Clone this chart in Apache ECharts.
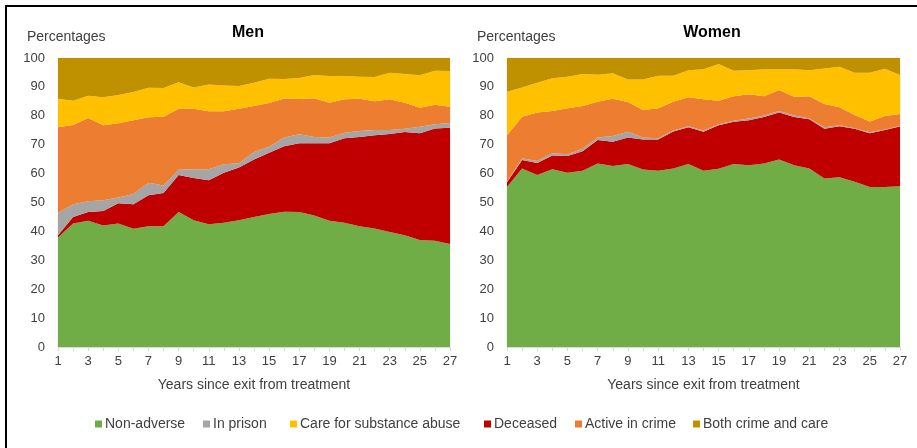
<!DOCTYPE html>
<html>
<head>
<meta charset="utf-8">
<script src="https://cdn.jsdelivr.net/npm/echarts@6/dist/echarts.min.js"></script>
<style>
  html,body{margin:0;padding:0;background:#fff;}
  #chart{width:917px;height:448px;}
</style>
</head>
<body>
<div id="chart"></div>
<script>
// years since exit from treatment
const years = [];
for (let i = 1; i <= 27; i++) years.push(String(i));

// Men - values (percent of each year, stacked to 100)
const menNonAdverse = [37.9,42.7,43.7,42.0,42.7,40.9,41.8,41.8,46.7,43.9,42.5,43.0,43.9,45.0,46.0,46.8,46.7,45.5,43.7,43.0,41.8,41.0,39.8,38.7,37.0,36.8,35.6];
const menDeceased   = [0.8,2.3,3.0,5.1,7.0,8.5,10.7,11.5,12.8,14.6,15.2,17.3,18.2,19.9,21.2,22.7,23.8,25.0,26.8,29.2,30.9,32.3,33.9,35.7,37.0,38.8,40.3];
const menPrison     = [7.7,4.4,3.7,3.7,2.0,3.5,4.3,2.6,1.8,3.0,3.8,2.9,1.5,2.6,2.1,3.0,3.1,2.2,2.0,1.9,2.0,1.8,1.4,1.1,2.2,1.5,1.6];
const menActive     = [29.6,27.4,28.8,25.9,25.7,25.6,22.7,23.8,21.1,20.9,20.1,18.4,18.8,15.9,15.1,13.5,12.2,13.4,12.0,11.6,11.2,9.9,10.6,9.0,6.6,6.7,5.6];
const menCare       = [9.9,8.4,7.7,9.7,9.8,9.7,10.2,9.9,9.2,7.4,9.2,8.9,7.9,8.0,8.4,6.7,7.3,8.0,9.3,8.1,7.6,8.4,9.2,10.0,11.2,11.8,12.4];
const menBoth       = [14.1,14.8,13.1,13.6,12.8,11.8,10.3,10.4,8.4,10.2,9.2,9.5,9.7,8.6,7.2,7.3,6.9,5.9,6.2,6.2,6.5,6.6,5.1,5.5,6.0,4.4,4.5];

// Women
const womenNonAdverse = [55.4,61.8,59.5,61.5,60.3,61.0,63.5,62.6,63.3,61.4,61.0,61.8,63.3,61.0,61.7,63.3,62.9,63.5,64.9,62.9,61.8,58.3,58.7,57.2,55.4,55.4,55.6];
const womenDeceased   = [1.6,2.9,4.2,4.8,5.8,6.7,8.1,8.4,9.2,10.4,10.8,12.8,12.7,13.5,15.0,14.6,15.6,16.1,16.2,16.7,17.0,17.2,17.7,18.3,18.6,19.7,20.7];
const womenPrison     = [0.2,0.6,0.7,0.7,0.6,0.9,0.9,2.0,2.0,0.7,0.4,0.3,0.4,0.4,0.4,0.4,0.6,0.5,0.6,0.5,0.3,0.5,0.3,0.2,0.3,0.2,0.2];
const womenActive     = [16.1,14.4,16.7,14.7,15.9,14.8,12.4,12.9,10.3,9.5,10.4,10.0,10.0,10.8,8.1,8.5,8.4,6.7,7.2,6.5,7.7,8.1,6.3,4.6,3.7,4.6,4.1];
const womenCare       = [15.0,10.1,10.3,11.3,10.9,11.1,9.3,8.8,7.8,10.6,11.3,9.0,9.4,10.4,12.7,8.8,8.3,9.3,7.2,9.5,9.0,12.3,14.0,14.6,16.9,16.4,13.5];
const womenBoth       = [11.7,10.2,8.6,7.0,6.5,5.5,5.8,5.3,7.4,7.4,6.1,6.1,4.2,3.9,2.1,4.4,4.2,3.9,3.9,3.9,4.2,3.6,3.0,5.1,5.1,3.7,5.9];

const seriesNames = ['Non-adverse','Deceased','In prison','Active in crime','Care for substance abuse','Both crime and care'];
const seriesColors = ['#70ad47','#c00000','#a5a5a5','#ed7d31','#ffc000','#bf9000'];
const menData = [menNonAdverse, menDeceased, menPrison, menActive, menCare, menBoth];
const womenData = [womenNonAdverse, womenDeceased, womenPrison, womenActive, womenCare, womenBoth];

// legend order as shown under the charts
const legendOrder = ['Non-adverse','In prison','Care for substance abuse','Deceased','Active in crime','Both crime and care'];
const legendLefts = [95, 203, 290, 484, 575, 693];

const FONT = '"Liberation Sans", Arial, sans-serif';
const TXT = '#404040';

function makeSeries(dataSets, idx, stackName){
    return dataSets.map((d, i) => ({
        name: seriesNames[i],
        type: 'line',
        stack: stackName,
        xAxisIndex: idx,
        yAxisIndex: idx,
        data: d,
        symbol: 'none',
        lineStyle: {width: 0},
        areaStyle: {color: seriesColors[i], opacity: 1},
        itemStyle: {color: seriesColors[i]},
        emphasis: {disabled: true},
        animation: false
    }));
}

function xAxis(idx){
    return {
        type: 'category',
        gridIndex: idx,
        data: years,
        boundaryGap: false,
        name: 'Years since exit from treatment',
        nameLocation: 'middle',
        nameGap: 31,
        nameTextStyle: {fontFamily: FONT, fontSize: 14, color: TXT},
        axisLine: {lineStyle: {color: '#d9d9d9'}},
        axisTick: {show: true, interval: 0, length: 4, lineStyle: {color: '#d9d9d9'}},
        axisLabel: {interval: 1, fontFamily: FONT, fontSize: 13, color: TXT, margin: 8},
        splitLine: {show: false}
    };
}

function yAxis(idx){
    return {
        type: 'value',
        gridIndex: idx,
        min: 0,
        max: 100,
        interval: 10,
        axisLine: {show: false},
        axisTick: {show: false},
        axisLabel: {fontFamily: FONT, fontSize: 13, color: TXT, margin: 13},
        splitLine: {show: false}
    };
}

const chart = echarts.init(document.getElementById('chart'));
chart.setOption({
    backgroundColor: '#fff',
    animation: false,
    title: [
        {text: 'Men', left: 243, top: 20, textAlign: 'center',
         textStyle: {fontFamily: FONT, fontSize: 16, fontWeight: 'bold', color: '#000'}},
        {text: 'Women', left: 707, top: 20, textAlign: 'center',
         textStyle: {fontFamily: FONT, fontSize: 16, fontWeight: 'bold', color: '#000'}},
        {text: 'Percentages', left: 22, top: 25,
         textStyle: {fontFamily: FONT, fontSize: 14, fontWeight: 'normal', color: TXT}},
        {text: 'Percentages', left: 472, top: 25,
         textStyle: {fontFamily: FONT, fontSize: 14, fontWeight: 'normal', color: TXT}}
    ],
    legend: legendOrder.map((name, i) => ({
        data: [name], left: legendLefts[i], top: 417, padding: 0,
        itemWidth: 7, itemHeight: 7, icon: 'rect',
        textStyle: {fontFamily: FONT, fontSize: 14, color: TXT, padding: [0,0,0,-2]}
    })),
    grid: [
        {left: 58, right: 467, top: 58, bottom: 101, show: true, borderColor: '#e4e4e4', borderWidth: 1, backgroundColor: 'transparent'},
        {left: 507, right: 17, top: 58, bottom: 101, show: true, borderColor: '#e4e4e4', borderWidth: 1, backgroundColor: 'transparent'}
    ],
    xAxis: [xAxis(0), xAxis(1)],
    yAxis: [yAxis(0), yAxis(1)],
    series: makeSeries(menData, 0, 'men').concat(makeSeries(womenData, 1, 'women')),
    graphic: [
        {type: 'rect', shape: {x: 5, y: 5, width: 912, height: 2}, style: {fill: '#000'}, silent: true},
        {type: 'rect', shape: {x: 5, y: 5, width: 2, height: 443}, style: {fill: '#000'}, silent: true}
    ]
});
</script>
</body>
</html>
